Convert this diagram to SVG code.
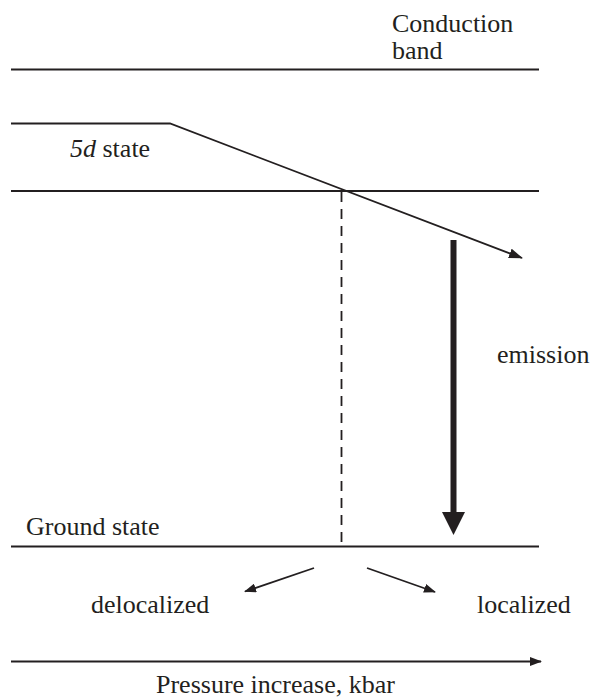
<svg xmlns="http://www.w3.org/2000/svg" width="592" height="698" viewBox="0 0 592 698">
<style>
.l{stroke:#231f20;stroke-width:2;fill:none}
.s{stroke:#231f20;stroke-width:1.8;fill:none}
</style>
<defs>
<marker id="ah" markerWidth="14" markerHeight="10" refX="13" refY="5" orient="auto" markerUnits="userSpaceOnUse">
<path d="M0,0 L14,5 L0,10 Z" fill="#231f20"/>
</marker>
<marker id="ahs" markerWidth="12" markerHeight="9" refX="11" refY="4.5" orient="auto" markerUnits="userSpaceOnUse">
<path d="M0,0 L12,4.5 L0,9 Z" fill="#231f20"/>
</marker>
</defs>
<rect width="592" height="698" fill="#ffffff"/>
<g font-family="Liberation Serif, Times New Roman, serif" font-size="26" fill="#231f20">
<g id="conduction-band">
<line class="l" x1="11" y1="69.5" x2="539" y2="69.5"/>
<text x="392" y="31.5">Conduction</text>
<text x="392" y="59">band</text>
</g>
<g id="state-5d">
<text x="70" y="157"><tspan font-style="italic">5d</tspan> state</text>
</g>
<g id="crossing-level">
<line class="l" x1="11" y1="191" x2="539" y2="191"/>
</g>
<g id="ground-state">
<line class="l" x1="11" y1="546.5" x2="539" y2="546.5"/>
<text x="26" y="535">Ground state</text>
</g>
<g id="emission">
<text x="497" y="363">emission</text>
</g>
<g id="delocalized">
<text x="91" y="613">delocalized</text>
</g>
<g id="localized">
<text x="477" y="613">localized</text>
</g>
<g id="pressure">
<text x="156" y="693">Pressure increase, kbar</text>
</g>
</g>
<g id="connectors">
<polyline class="s" points="11,123.5 170,123.5 522,258" marker-end="url(#ah)"/>
<line class="s" x1="341.5" y1="192" x2="341.5" y2="546" stroke-dasharray="10,7"/>
<line stroke="#231f20" stroke-width="6" x1="453.5" y1="240" x2="453.5" y2="514"/>
<path d="M442,512 L465,512 L453.5,535 Z" fill="#231f20"/>
<line class="s" x1="314" y1="568" x2="245" y2="591.5" marker-end="url(#ahs)"/>
<line class="s" x1="367" y1="568" x2="435" y2="592" marker-end="url(#ahs)"/>
<line class="l" x1="11" y1="661.5" x2="541" y2="661.5" marker-end="url(#ahs)"/>
</g>
</svg>
